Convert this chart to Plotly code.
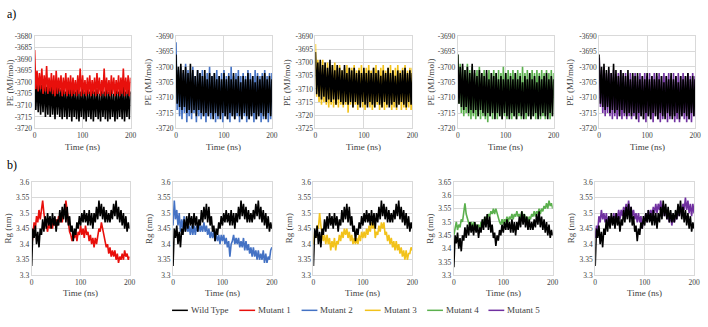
import numpy as np
import plotly.graph_objects as go

# ---------------- data ----------------
TIME = np.linspace(0, 200, 81)
SERIES = ["Wild Type", "Mutant 1", "Mutant 2", "Mutant 3", "Mutant 4", "Mutant 5"]
COLORS = ["#000000", "#e8100c", "#4472c4", "#f2c21b", "#5bb04e", "#7030a0"]

WT_PE = [
    -3696, -3712, -3700, -3713, -3699, -3714, -3701, -3713, -3700, -3715,
    -3702, -3714, -3699, -3715, -3701, -3714, -3703, -3716, -3701, -3714,
    -3702, -3715, -3703, -3716, -3701, -3715, -3704, -3716, -3702, -3715,
    -3703, -3717, -3702, -3715, -3704, -3716, -3703, -3717, -3704, -3715,
    -3702, -3716, -3704, -3717, -3703, -3715, -3704, -3716, -3702, -3717,
    -3704, -3715, -3703, -3716, -3705, -3717, -3703, -3715, -3704, -3716,
    -3702, -3717, -3704, -3716, -3703, -3715, -3705, -3717, -3703, -3716,
    -3704, -3715, -3703, -3716, -3702, -3717, -3704, -3715, -3703, -3716,
    -3704]
M1_PE = [
    -3686, -3703, -3695, -3704, -3696, -3703, -3694, -3705, -3697, -3704,
    -3693, -3705, -3698, -3704, -3696, -3705, -3697, -3706, -3695, -3705,
    -3698, -3704, -3697, -3706, -3698, -3705, -3696, -3706, -3698, -3705,
    -3697, -3706, -3698, -3705, -3699, -3706, -3697, -3705, -3694, -3706,
    -3697, -3705, -3699, -3706, -3698, -3705, -3697, -3706, -3699, -3705,
    -3698, -3706, -3696, -3705, -3698, -3706, -3699, -3705, -3694, -3706,
    -3698, -3705, -3699, -3706, -3697, -3705, -3698, -3706, -3699, -3705,
    -3697, -3706, -3698, -3705, -3694, -3706, -3698, -3705, -3697, -3706,
    -3698]
M2_PE = [
    -3692, -3714, -3701, -3716, -3700, -3717, -3702, -3715, -3699, -3718,
    -3701, -3716, -3702, -3717, -3700, -3715, -3703, -3718, -3701, -3716,
    -3702, -3717, -3701, -3716, -3703, -3718, -3702, -3716, -3700, -3717,
    -3703, -3716, -3702, -3718, -3701, -3717, -3703, -3716, -3702, -3718,
    -3701, -3716, -3703, -3717, -3702, -3718, -3700, -3716, -3703, -3717,
    -3702, -3716, -3701, -3718, -3703, -3717, -3702, -3716, -3703, -3718,
    -3701, -3717, -3702, -3716, -3703, -3718, -3701, -3717, -3702, -3716,
    -3703, -3718, -3702, -3717, -3701, -3716, -3703, -3718, -3702, -3717,
    -3702]
M3_PE = [
    -3693, -3713, -3699, -3715, -3700, -3716, -3699, -3715, -3701, -3716,
    -3700, -3717, -3702, -3716, -3701, -3717, -3700, -3716, -3702, -3717,
    -3701, -3716, -3703, -3717, -3702, -3716, -3701, -3719, -3702, -3716,
    -3702, -3717, -3701, -3716, -3703, -3718, -3702, -3716, -3701, -3717,
    -3703, -3718, -3702, -3716, -3701, -3717, -3703, -3718, -3702, -3717,
    -3701, -3716, -3703, -3718, -3702, -3717, -3701, -3718, -3703, -3717,
    -3702, -3716, -3701, -3718, -3703, -3717, -3702, -3718, -3701, -3716,
    -3703, -3718, -3702, -3717, -3701, -3718, -3703, -3717, -3702, -3718,
    -3702]
M4_PE = [
    -3696, -3712, -3699, -3715, -3700, -3716, -3701, -3715, -3699, -3716,
    -3701, -3717, -3700, -3716, -3702, -3717, -3701, -3716, -3700, -3717,
    -3702, -3716, -3701, -3717, -3702, -3718, -3701, -3716, -3702, -3717,
    -3701, -3716, -3702, -3717, -3701, -3716, -3702, -3717, -3700, -3716,
    -3702, -3717, -3701, -3716, -3702, -3717, -3701, -3716, -3702, -3717,
    -3701, -3716, -3702, -3717, -3700, -3716, -3702, -3717, -3701, -3716,
    -3702, -3717, -3701, -3716, -3702, -3717, -3701, -3716, -3702, -3717,
    -3701, -3716, -3702, -3717, -3701, -3716, -3702, -3717, -3701, -3716,
    -3702]
M5_PE = [
    -3697, -3713, -3701, -3715, -3700, -3716, -3702, -3715, -3701, -3716,
    -3702, -3717, -3701, -3716, -3703, -3717, -3702, -3716, -3701, -3717,
    -3703, -3716, -3702, -3717, -3703, -3716, -3702, -3717, -3703, -3716,
    -3702, -3717, -3703, -3718, -3702, -3716, -3703, -3717, -3702, -3718,
    -3703, -3716, -3702, -3717, -3703, -3718, -3702, -3716, -3703, -3717,
    -3702, -3718, -3703, -3717, -3702, -3716, -3703, -3718, -3702, -3717,
    -3703, -3716, -3702, -3718, -3703, -3717, -3702, -3718, -3703, -3716,
    -3702, -3717, -3703, -3718, -3702, -3717, -3703, -3718, -3702, -3716,
    -3703]

WT_RG = [
    3.33, 3.45, 3.42, 3.46, 3.40, 3.44, 3.39, 3.45, 3.43, 3.48,
    3.44, 3.49, 3.45, 3.50, 3.46, 3.49, 3.45, 3.50, 3.46, 3.49,
    3.44, 3.48, 3.46, 3.51, 3.47, 3.52, 3.48, 3.53, 3.47, 3.52,
    3.46, 3.49, 3.44, 3.46, 3.41, 3.45, 3.43, 3.47, 3.45, 3.49,
    3.46, 3.50, 3.47, 3.51, 3.47, 3.50, 3.46, 3.51, 3.46, 3.50,
    3.45, 3.50, 3.47, 3.52, 3.48, 3.54, 3.49, 3.53, 3.48, 3.52,
    3.47, 3.51, 3.47, 3.50, 3.47, 3.51, 3.48, 3.53, 3.49, 3.54,
    3.48, 3.52, 3.47, 3.51, 3.46, 3.50, 3.45, 3.49, 3.44, 3.47,
    3.45]
M1_RG = [
    3.39, 3.44, 3.47, 3.45, 3.49, 3.47, 3.51, 3.48, 3.52, 3.54,
    3.50, 3.47, 3.46, 3.44, 3.47, 3.45, 3.47, 3.45, 3.48, 3.46,
    3.48, 3.46, 3.49, 3.47, 3.50, 3.47, 3.51, 3.50, 3.54, 3.49,
    3.47, 3.44, 3.43, 3.41, 3.44, 3.42, 3.44, 3.41, 3.44, 3.43,
    3.46, 3.43, 3.45, 3.42, 3.46, 3.43, 3.44, 3.41, 3.43, 3.40,
    3.42, 3.39, 3.42, 3.40, 3.43, 3.45, 3.44, 3.47, 3.45, 3.43,
    3.41, 3.39, 3.40, 3.37, 3.39, 3.36, 3.38, 3.36, 3.38, 3.35,
    3.37, 3.34, 3.36, 3.35, 3.37, 3.35, 3.38, 3.36, 3.37, 3.35,
    3.36]
M2_RG = [
    3.46, 3.54, 3.48, 3.51, 3.46, 3.50, 3.44, 3.48, 3.45, 3.49,
    3.44, 3.47, 3.44, 3.46, 3.43, 3.46, 3.43, 3.46, 3.43, 3.46,
    3.44, 3.47, 3.44, 3.46, 3.44, 3.47, 3.44, 3.46, 3.43, 3.45,
    3.42, 3.44, 3.42, 3.44, 3.41, 3.43, 3.41, 3.43, 3.40, 3.43,
    3.41, 3.43, 3.40, 3.42, 3.39, 3.41, 3.36, 3.40, 3.41, 3.43,
    3.40, 3.42, 3.40, 3.42, 3.39, 3.41, 3.39, 3.42, 3.38, 3.41,
    3.38, 3.40, 3.37, 3.39, 3.36, 3.39, 3.36, 3.38, 3.35, 3.38,
    3.35, 3.37, 3.35, 3.38, 3.34, 3.37, 3.34, 3.36, 3.35, 3.38,
    3.39]
M3_RG = [
    3.40, 3.44, 3.42, 3.46, 3.45, 3.50, 3.46, 3.44, 3.41, 3.43,
    3.40, 3.43, 3.40, 3.42, 3.38, 3.41, 3.39, 3.42, 3.38, 3.41,
    3.40, 3.43, 3.41, 3.44, 3.42, 3.45, 3.43, 3.45, 3.42, 3.44,
    3.41, 3.43, 3.40, 3.42, 3.40, 3.42, 3.40, 3.43, 3.41, 3.44,
    3.42, 3.44, 3.42, 3.45, 3.43, 3.46, 3.44, 3.47, 3.45, 3.48,
    3.42, 3.44, 3.43, 3.46, 3.44, 3.47, 3.45, 3.47, 3.43, 3.44,
    3.41, 3.43, 3.40, 3.42, 3.39, 3.41, 3.38, 3.41, 3.38, 3.40,
    3.37, 3.39, 3.36, 3.38, 3.35, 3.38, 3.35, 3.37, 3.37, 3.39,
    3.38]
M4_RG = [
    3.45, 3.48, 3.50, 3.47, 3.49, 3.48, 3.51, 3.50, 3.54, 3.57,
    3.53, 3.51, 3.50, 3.48, 3.50, 3.48, 3.50, 3.47, 3.49, 3.48,
    3.49, 3.47, 3.50, 3.49, 3.51, 3.50, 3.52, 3.51, 3.53, 3.52,
    3.54, 3.53, 3.55, 3.53, 3.55, 3.53, 3.52, 3.50, 3.49, 3.51,
    3.49, 3.51, 3.50, 3.52, 3.50, 3.52, 3.51, 3.53, 3.51, 3.53,
    3.52, 3.54, 3.52, 3.53, 3.51, 3.54, 3.52, 3.53, 3.51, 3.52,
    3.50, 3.52, 3.51, 3.53, 3.52, 3.54, 3.52, 3.54, 3.53, 3.55,
    3.53, 3.55, 3.54, 3.56, 3.55, 3.57, 3.55, 3.58, 3.56, 3.57,
    3.55]
M5_RG = [
    3.42, 3.46, 3.44, 3.49, 3.47, 3.51, 3.48, 3.50, 3.47, 3.50,
    3.46, 3.49, 3.46, 3.49, 3.47, 3.50, 3.47, 3.50, 3.48, 3.51,
    3.48, 3.51, 3.49, 3.52, 3.50, 3.53, 3.50, 3.54, 3.50, 3.52,
    3.49, 3.51, 3.48, 3.50, 3.47, 3.50, 3.47, 3.49, 3.45, 3.48,
    3.48, 3.50, 3.47, 3.51, 3.48, 3.51, 3.49, 3.52, 3.50, 3.53,
    3.50, 3.53, 3.51, 3.54, 3.50, 3.53, 3.49, 3.52, 3.48, 3.50,
    3.47, 3.50, 3.46, 3.49, 3.47, 3.49, 3.48, 3.51, 3.49, 3.52,
    3.50, 3.53, 3.51, 3.55, 3.51, 3.54, 3.50, 3.53, 3.49, 3.53,
    3.50]

MUT_PE = [M1_PE, M2_PE, M3_PE, M4_PE, M5_PE]
MUT_RG = [M1_RG, M2_RG, M3_RG, M4_RG, M5_RG]

PE_RANGES = [(-3720, -3680), (-3720, -3690), (-3725, -3690), (-3720, -3690), (-3720, -3690)]
RG_RANGES = [(3.3, 3.6), (3.3, 3.6), (3.3, 3.6), (3.3, 3.65), (3.3, 3.6)]
X_TICKS = [0, 100, 200]
X_TICKTEXT = ["0", "100", "200"]

# ---------------- layout helpers ----------------
W, H = 708, 327
FONT = "Liberation Serif, Times New Roman, DejaVu Serif, serif"
TXT = "#404040"
GRID = "#d9d9d9"
TOP_X = [(33, 130), (176, 273), (317, 415), (461, 558), (604, 701)]
BOT_X = [(30, 129), (173, 273), (315, 415), (457, 557), (600, 700)]
TOP_Y = (33, 128)
BOT_Y = (183, 279)
TOP_TITLE_X = [8, 148, 289, 434, 575]
BOT_TITLE_X = [6, 148, 290, 433, 575]

def xd(a, b):
    return [a / W, b / W]

def yd(top, bottom):
    return [1 - bottom / H, 1 - top / H]

def fmt(v, dec):
    s = f"{v:.{dec}f}"
    if "." in s:
        s = s.rstrip("0").rstrip(".")
    return s

fig = go.Figure()
layout = dict(width=W, height=H, margin=dict(l=0, r=0, t=0, b=0),
              paper_bgcolor="white", plot_bgcolor="white",
              showlegend=False, font=dict(family=FONT, color=TXT, size=7))
annotations = []
shapes = []

axis_common = dict(showgrid=True, gridcolor=GRID, gridwidth=1, zeroline=False,
                   showline=True, linecolor=GRID, linewidth=1, mirror=True,
                   ticks="", tickfont=dict(family=FONT, size=7.5, color=TXT))

for row in range(2):
    for p in range(5):
        idx = row * 5 + p + 1
        xa = "x" if idx == 1 else f"x{idx}"
        ya = "y" if idx == 1 else f"y{idx}"
        if row == 0:
            wt, mut = WT_PE, MUT_PE[p]
            lo, hi = PE_RANGES[p]
            tv = list(range(lo, hi + 1, 5))
            tt = [str(v) for v in tv]
            xdom = xd(*TOP_X[p]); ydom = yd(*TOP_Y)
            lw = 1.6
        else:
            wt, mut = WT_RG, MUT_RG[p]
            lo, hi = RG_RANGES[p]
            n = int(round((hi - lo) / 0.05))
            tv = [round(lo + 0.05 * k, 2) for k in range(n + 1)]
            tt = [fmt(v, 2) for v in tv]
            xdom = xd(*BOT_X[p]); ydom = yd(*BOT_Y)
            lw = 1.6
        traces = [(mut, COLORS[p + 1]), (wt, COLORS[0])]
        if row == 0 and p == 0:
            traces = traces[::-1]
        for data, col in traces:
            fig.add_trace(go.Scatter(x=TIME, y=data, mode="lines",
                                     line=dict(color=col, width=lw),
                                     xaxis=xa, yaxis=ya, hoverinfo="skip"))
        layout["xaxis" if idx == 1 else f"xaxis{idx}"] = dict(
            axis_common, domain=xdom, range=[0, 200], tickvals=X_TICKS,
            ticktext=X_TICKTEXT, anchor=ya)
        layout["yaxis" if idx == 1 else f"yaxis{idx}"] = dict(
            axis_common, domain=ydom, range=[lo, hi], tickvals=tv,
            ticktext=tt, anchor=xa)
        # x title
        xc = (xdom[0] + xdom[1]) / 2
        ty = 147 if row == 0 else 297
        annotations.append(dict(text="Time (ns)", x=xc, y=1 - ty / H, xref="paper", yref="paper",
                                showarrow=False, xanchor="center", yanchor="middle",
                                font=dict(family=FONT, size=9, color=TXT)))
        # y title
        tx = TOP_TITLE_X[p] if row == 0 else BOT_TITLE_X[p]
        tyc = (TOP_Y[0] + TOP_Y[1]) / 2 if row == 0 else (BOT_Y[0] + BOT_Y[1]) / 2
        annotations.append(dict(text="PE (MJ/mol)" if row == 0 else "Rg (nm)",
                                x=tx / W, y=1 - tyc / H, xref="paper", yref="paper",
                                showarrow=False, textangle=-90, xanchor="center", yanchor="middle",
                                font=dict(family=FONT, size=9, color=TXT)))

# panel labels
for lab, yy in [("a)", 10), ("b)", 166)]:
    annotations.append(dict(text=lab, x=3 / W, y=1 - yy / H, xref="paper", yref="paper",
                            showarrow=False, xanchor="left", yanchor="middle",
                            font=dict(family=FONT, size=12, color="#000000")))

# legend
LEG_LINE_X = [172, 240, 303, 367, 430, 492]
LEG_Y = 315
for name, col, lx in zip(SERIES, COLORS, LEG_LINE_X):
    shapes.append(dict(type="line", xref="paper", yref="paper",
                       x0=lx / W, x1=(lx + 16) / W, y0=1 - LEG_Y / H, y1=1 - LEG_Y / H,
                       line=dict(color=col, width=1.5)))
    annotations.append(dict(text=name, x=(lx + 17) / W, y=1 - LEG_Y / H, xref="paper", yref="paper",
                            showarrow=False, xanchor="left", yanchor="middle",
                            font=dict(family=FONT, size=9, color=TXT)))

layout["annotations"] = annotations
layout["shapes"] = shapes
fig.update_layout(**layout)
fig.write_html("out.html")
